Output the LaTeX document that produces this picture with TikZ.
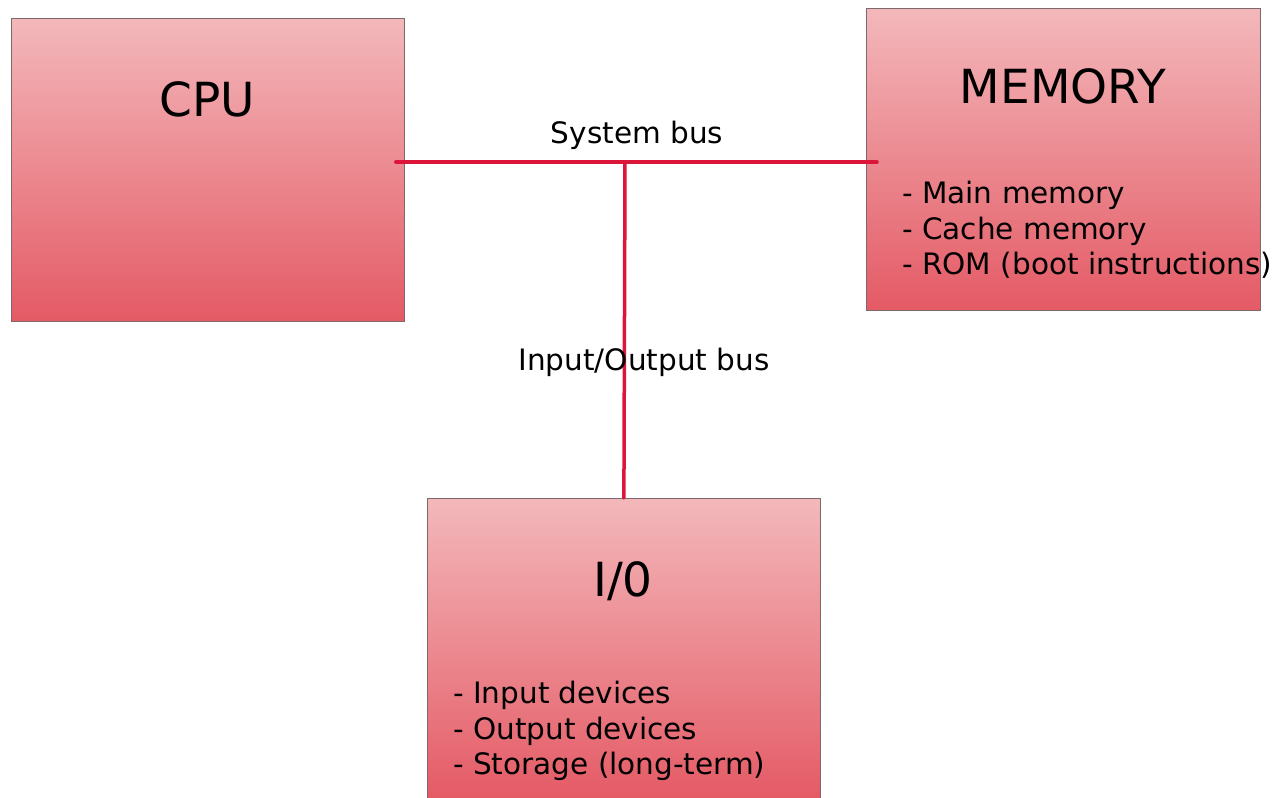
\documentclass[tikz,border=0pt]{standalone}
\usepackage{fontspec}
\setmainfont{DejaVu Sans}
\usepackage{tikz}
\usetikzlibrary{positioning}
\definecolor{boxtop}{RGB}{243,184,187}
\definecolor{boxmiddle}{RGB}{238,155,160}
\definecolor{boxbottom}{RGB}{228,90,101}
\definecolor{boxline}{RGB}{125,105,108}
\definecolor{buscolor}{RGB}{220,22,58}

\begin{document}
\begin{tikzpicture}[x=1pt, y=-1pt,
  box/.style={rectangle, draw=boxline, line width=0.8pt, top color=boxtop,
              middle color=boxmiddle, bottom color=boxbottom, inner sep=0pt},
  title/.style={anchor=base, inner sep=0pt, font=\fontsize{47}{56}\selectfont},
  items/.style={anchor=north west, inner sep=0pt, align=left,
                font=\fontsize{29.5}{35.5}\selectfont},
  buslabel/.style={anchor=base, inner sep=0pt, font=\fontsize{29.5}{35.5}\selectfont},
  bus/.style={line width=3.5pt, color=buscolor, line cap=round}
]
  \useasboundingbox (0,0) rectangle (1278,798);

  % Units
  \node[box, minimum width=393pt, minimum height=303pt, anchor=north west] (cpu) at (11,18) {};
  \node[box, minimum width=394pt, minimum height=302pt, anchor=north west] (mem) at (866,8) {};
  \node[box, minimum width=393pt, minimum height=302pt, anchor=north west] (io) at (427,498) {};

  % Titles
  \node[title] (cputitle) at (207,116) {CPU};
  \node[title] (memtitle) at (1063,103) {MEMORY};
  \node[title] (iotitle) at (623,596) {I/0};

  % Contents
  \node[items] (memlist) at (902,181) {- Main memory\\- Cache memory\\- ROM (boot instructions)};
  \node[items] (iolist) at (453,681) {- Input devices\\- Output devices\\- Storage (long-term)};

  % Buses
  \coordinate (junction) at (625,162);
  \draw[bus] ([xshift=-9pt]cpu.east |- junction) -- ([xshift=11pt]mem.west |- junction);
  \draw[bus] (junction) -- (io.north);

  \node[buslabel] (sysbus) at (637,143) {System bus};
  \node[buslabel] (iobus) at (644,370) {Input/Output bus};
\end{tikzpicture}
\end{document}
